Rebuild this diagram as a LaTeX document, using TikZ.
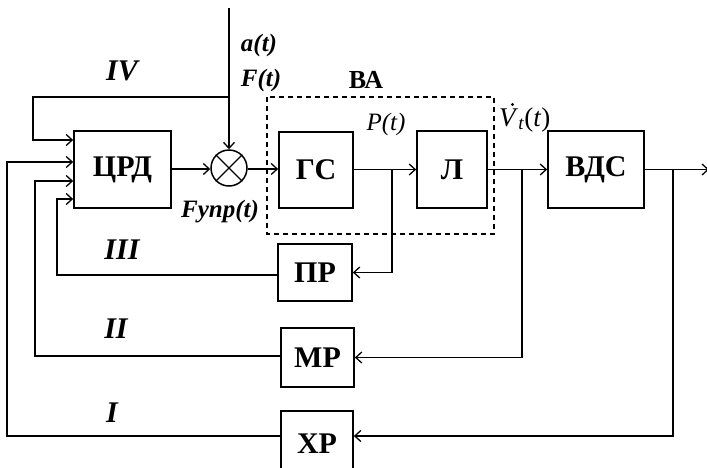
\documentclass[tikz,border=0pt]{standalone}
\usepackage{fontspec}
\setmainfont{Liberation Serif}
\usetikzlibrary{arrows.meta}
\tikzset{
  blk/.style={draw, line width=1.7pt, rectangle, inner sep=0pt, font=\fontsize{30}{30}\selectfont\bfseries},
  ln/.style={line width=1.4pt},
  arr/.style={ln, -{Straight Barb[length=6pt,width=11pt,line width=1.3pt]}},
  lbl/.style={font=\fontsize{25}{25}\selectfont\bfseries\itshape, inner sep=0pt},
  rom/.style={font=\fontsize{30}{30}\selectfont\bfseries\itshape, inner sep=0pt},
}
\begin{document}
\begin{tikzpicture}[x=1pt,y=-1pt]
\useasboundingbox (0,0) rectangle (707,467);
\clip (0,0) rectangle (707,467);
% blocks
\node[blk, minimum width=97pt, minimum height=77pt] (crd) at (122.5,169.5) {ЦРД};
\node[blk, minimum width=74pt, minimum height=76pt] (gs) at (316,170) {ГС};
\node[blk, minimum width=70pt, minimum height=77pt] (l) at (452,169.5) {Л};
\node[blk, minimum width=96pt, minimum height=77pt] (vds) at (596,169.5) {ВДС};
\node[blk, minimum width=74pt, minimum height=57pt] (pr) at (315,272.5) {ПР};
\node[blk, minimum width=73pt, minimum height=59pt] (mr) at (317.5,357.5) {МР};
\node[blk, minimum width=72pt, minimum height=66pt] (xr) at (317,444) {ХР};
\node[draw, circle, line width=1.5pt, minimum size=36pt, inner sep=0pt] (sum) at (229,168) {};
\draw[line width=1.3pt] (sum.north west) -- (sum.south east) (sum.north east) -- (sum.south west);
% dashed box
\draw[line width=1.3pt, dash pattern=on 5pt off 4pt] (267,97) rectangle (494,234);
% coordinates
\coordinate (top) at (229,8);
\coordinate (iv) at (229,97);
\coordinate (pt) at (392,169.5);
\coordinate (vt) at (522,169.5);
\coordinate (ot) at (673,169.5);
\coordinate (out) at (709,169.5);
% main path
\draw[arr] (top) -- (sum.north);
\draw[arr] (crd.east |- {(0,169)}) -- (sum.west |- {(0,169)});
\draw[arr] (sum.east |- {(0,169)}) -- (gs.west |- {(0,169)});
\draw[arr] (gs.east |- {(0,169.5)}) -- (l.west);
\draw[arr] (l.east) -- (vds.west);
\draw[arr] (vds.east) -- (out);
% loop IV
\draw[arr] (iv) -- (33,97) -- (33,140) -- (crd.west |- {(0,140)});
% loop III
\draw[arr] (pt) -- (pt |- pr.east) -- (pr.east);
\draw[arr] (pr.west |- {(0,275)}) -- (57,275) -- (57,199) -- (crd.west |- {(0,199)});
% loop II
\draw[arr] (vt) -- (vt |- mr.east) -- (mr.east);
\draw[arr] (mr.west |- {(0,356)}) -- (35,356) -- (35,181) -- (crd.west |- {(0,181)});
% loop I
\draw[arr] (ot) -- (673,436) -- (xr.east |- {(0,436)});
\draw[arr] (xr.west |- {(0,436)}) -- (7,436) -- (7,162) -- (crd.west |- {(0,162)});
% labels
\node[lbl] (la) at (259,45) {a(t)};
\node[lbl] (lf) at (261,80) {F(t)};
\node[lbl] (lfu) at (220,212) {Fупр(t)};
\node[font=\fontsize{26}{26}\selectfont\bfseries, inner sep=0pt] (lba) at (366,80) {ВА};
\node[font=\fontsize{25}{25}\selectfont\itshape, inner sep=0pt] (lp) at (386,124) {P(t)};
\node[inner sep=0pt, anchor=base west, font=\fontsize{27}{27}\selectfont] (lv) at (499,126) {\textit{V}\textsubscript{\textit{t}}(\textit{t})};
\fill (lv.base west) ++(13.5,-21.5) circle (1.7pt);
\node[rom] (r4) at (122,71) {IV};
\node[rom] (r3) at (122,250) {III};
\node[rom] (r2) at (116,329) {II};
\node[rom] (r1) at (112,413) {I};
\end{tikzpicture}
\end{document}
